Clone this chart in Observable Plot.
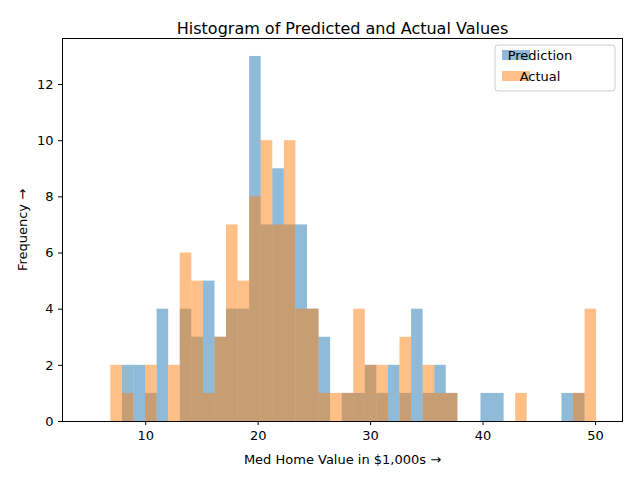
<!DOCTYPE html>
<html>
<head>
<meta charset="utf-8">
<script src="https://cdn.jsdelivr.net/npm/d3@7"></script>
<script src="https://cdn.jsdelivr.net/npm/@observablehq/plot@0.6"></script>
<style>
  body { margin: 0; background: white; }
  #chart { position: relative; width: 640px; height: 480px; }
</style>
</head>
<body>
<div id="chart"></div>
<script>
const BIN_START = 6.9;
const BIN_END = 50.1;
const predictionCounts = [0,2,2,1,4,0,4,3,5,3,4,4,13,7,9,7,7,4,3,0,1,1,2,1,2,1,4,1,2,1,0,0,1,1,0,0,0,0,0,1,1,0];
const actualCounts     = [2,1,0,2,0,2,6,5,1,3,7,5,8,10,7,10,4,4,1,1,1,4,2,2,0,3,0,2,1,1,0,0,0,0,0,1,0,0,0,0,1,4];
const X_TICKS = [10, 20, 30, 40, 50];
const Y_TICKS = [0, 2, 4, 6, 8, 10, 12];

const binW = (BIN_END - BIN_START) / predictionCounts.length;
const toRows = counts => counts.map((c, i) => ({x1: BIN_START + i * binW, x2: BIN_START + (i + 1) * binW, y: c}));
const predRows = toRows(predictionCounts).filter(d => d.y > 0);
const actRows = toRows(actualCounts).filter(d => d.y > 0);

const BLUE = "#1f77b4", ORANGE = "#ff7f0e";

const plot = Plot.plot({
  width: 640,
  height: 480,
  marginLeft: 62,
  marginRight: 18,
  marginTop: 38,
  marginBottom: 59,
  style: {fontFamily: "DejaVu Sans, sans-serif", fontSize: "13px", color: "black", background: "white"},
  x: {domain: [2.6, 52.4], ticks: X_TICKS, tickSize: 4, label: "Med Home Value in $1,000s", labelAnchor: "center", labelOffset: 42},
  y: {domain: [0, 13.64], ticks: Y_TICKS, tickSize: 4, label: "Frequency", labelAnchor: "center", labelOffset: 45},
  marks: [
    Plot.rectY(predRows, {x1: "x1", x2: "x2", y: "y", fill: BLUE, fillOpacity: 0.5, inset: 0}),
    Plot.rectY(actRows, {x1: "x1", x2: "x2", y: "y", fill: ORANGE, fillOpacity: 0.5, inset: 0}),
    Plot.frame({stroke: "black"}),
    Plot.text(["Histogram of Predicted and Actual Values"], {frameAnchor: "top", dy: -16, fontSize: 16})
  ]
});
document.getElementById("chart").append(plot);

// legend box, upper right like matplotlib
const svg = d3.select(plot);
const lg = svg.append("g").attr("transform", "translate(495,45)");
lg.append("rect").attr("width", 120).attr("height", 46).attr("rx", 3)
  .attr("fill", "white").attr("fill-opacity", 0.8).attr("stroke", "#cccccc");
[["Prediction", BLUE], ["Actual", ORANGE]].forEach(([name, c], i) => {
  lg.append("rect").attr("x", 7).attr("y", 5 + i * 21).attr("width", 28).attr("height", 10)
    .attr("fill", c).attr("fill-opacity", 0.5);
  lg.append("text").attr("x", 45).attr("y", 15 + i * 21).attr("font-size", 13)
    .attr("font-family", "DejaVu Sans, sans-serif").text(name);
});
</script>
</body>
</html>
